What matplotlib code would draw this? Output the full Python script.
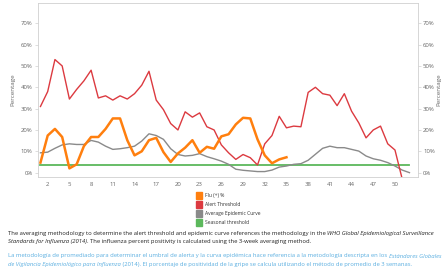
import matplotlib
matplotlib.use("Agg")
import matplotlib.pyplot as plt
import numpy as np

weeks = list(range(1, 53))
alert = [31, 38, 53, 50, 34.5, 39, 43, 48, 35, 36, 34, 36, 34.5, 37, 41, 47.5, 34, 29.5, 23, 20,
         28.5, 26, 28, 21.5, 20, 13, 9.3, 6.2, 8.5, 7, 3.6, 13.5, 17.4, 26.4, 21, 21.8, 21.5, 37.6,
         40, 37, 36.3, 31.4, 37, 28.8, 23.3, 16.3, 20, 21.8, 13.5, 10.6, -3, -15]
avg_curve = [9.3, 9.6, 11.4, 13, 13.5, 13.2, 13.2, 15.1, 14.3, 12.4, 10.9, 11.2, 11.7, 12.4, 14.8,
             18.2, 17.4, 15.6, 11.2, 8.5, 7.8, 8.1, 8.9, 7.5, 6.5, 5.4, 3.9, 1.6, 1.1, 0.8, 0.5, 0.5,
             1.2, 2.6, 3.1, 3.9, 4.2, 5.8, 8.6, 11.4, 12.4, 11.7, 11.7, 10.9, 10.1, 7.8, 6.5, 5.8,
             4.7, 3.1, 1.2, 0.0]
flu_weeks = list(range(1, 36))
flu_pos = [4.7, 17.4, 20.5, 16.7, 2, 3.9, 12.4, 16.7, 16.7, 20.5, 25.4, 25.4, 15.2, 8.1, 10, 15.2,
           16.3, 9.6, 5, 9, 11.7, 15.2, 9.3, 12.1, 11.2, 17, 18, 22.6, 25.7, 25.4, 15.6, 8.1, 4.4,
           6.2, 7.2]
seasonal = [3.7] * 52
xticks = list(range(2, 51, 3))
yticks = [0, 10, 20, 30, 40, 50, 60, 70]
legend_labels = ["Flu (+) %", "Alert Threshold", "Average Epidemic Curve", "Seasonal threshold"]

c_orange = "#ff7f0e"
c_red = "#dc3a40"
c_gray = "#8a8a8a"
c_green = "#5cb85c"
axis_col = "#d0d0d0"
tick_col = "#666666"

plt.rcParams['font.family'] = ['Open Sans', 'DejaVu Sans']

fig = plt.figure(figsize=(4.42, 2.73), dpi=100)
ax = fig.add_axes([0.085, 0.352, 0.861, 0.637])

ax.plot(weeks, seasonal, color=c_green, lw=1.3, zorder=2)
ax.plot(weeks, avg_curve, color=c_gray, lw=1.0, zorder=3)
ax.plot(weeks, alert, color=c_red, lw=1.0, zorder=4)
ax.plot(flu_weeks, flu_pos, color=c_orange, lw=1.8, zorder=5)

ax.set_xlim(0.6, 53.2)
ax.set_ylim(-2, 79.5)
ax.set_xticks(xticks)
ax.set_xticklabels([str(v) for v in xticks])
ax.set_yticks(yticks)
ax.set_yticklabels([f"{v}%" for v in yticks])
ax.tick_params(axis='x', length=0, labelsize=4.3, colors=tick_col, pad=4)
ax.tick_params(axis='y', length=2, width=0.5, color=axis_col, labelsize=4.3,
               labelcolor=tick_col, pad=1.5, left=True, right=True, labelright=True)
for s in ax.spines.values():
    s.set_color(axis_col)
    s.set_linewidth(0.6)
ax.set_ylabel("Percentage", fontsize=4.5, color=tick_col, labelpad=4)
fig.text(0.992, 0.67, "Percentage", rotation=90, fontsize=4.5, color=tick_col,
         ha='center', va='center')

# legend
leg_cols = [c_orange, c_red, c_gray, c_green]
leg_y = [195.5, 204.5, 213.5, 222.5]
for col, lab, yp in zip(leg_cols, legend_labels, leg_y):
    fy = 1 - yp / 273
    fig.patches.append(plt.Rectangle((195.5 / 442, fy - 3.2 / 273), 6.5 / 442, 6.5 / 273,
                                     transform=fig.transFigure, color=col, figure=fig))
    fig.text(205 / 442, fy, lab, fontsize=3.6, color="#333333", va='center', ha='left')

renderer = fig.canvas.get_renderer()

def rich_line(x_px, y_px, parts, color, size):
    x = x_px / 442
    for s, st in parts:
        t = fig.text(x, 1 - y_px / 273, s, fontsize=size, style=st, color=color,
                     va='center', ha='left')
        bb = t.get_window_extent(renderer)
        x += bb.width / 442

fs = 4.2
black = "#222222"
blue = "#5aaee0"
rich_line(8, 233.5, [("The averaging methodology to determine the alert threshold and epidemic curve references the methodology in the ", 'normal'),
                     ("WHO Global Epidemiological Surveillance", 'italic')], black, fs)
rich_line(8, 242, [("Standards for Influenza (2014)", 'italic'),
                   (". The influenza percent positivity is calculated using the 3-week averaging method.", 'normal')], black, fs)
rich_line(8, 256, [("La metodología de promediado para determinar el umbral de alerta y la curva epidémica hace referencia a la metodología descripta en los ", 'normal'),
                   ("Estándares Globales", 'italic')], blue, fs)
rich_line(8, 264.5, [("de Vigilancia Epidemiológico para Influenza", 'italic'),
                     (" (2014). El porcentaje de positividad de la gripe se calcula utilizando el método de promedio de 3 semanas.", 'normal')], blue, fs)

fig.savefig("out.png", dpi=100)
